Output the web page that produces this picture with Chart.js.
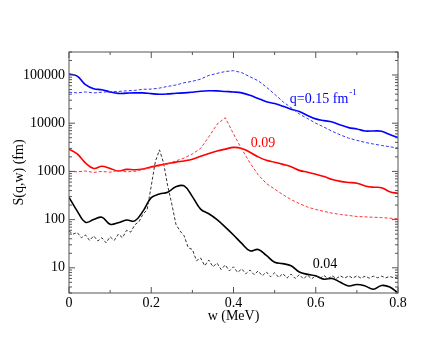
<!DOCTYPE html>
<html>
<head>
<meta charset="utf-8">
<script src="https://cdn.jsdelivr.net/npm/chart.js@4/dist/chart.umd.min.js"></script>
<style>
  body { margin: 0; background: #fff; }
  canvas { display: block; }
</style>
</head>
<body>
<canvas id="grafico" width="448" height="346"></canvas>
<script>
// eje x (MeV) para las curvas continuas y las discontinuas azul/roja
const wPaso2 = [0, 0.02, 0.04, 0.06, 0.08, 0.1, 0.12, 0.14, 0.16, 0.18, 0.2, 0.22, 0.24, 0.26, 0.28, 0.3,
  0.32, 0.34, 0.36, 0.38, 0.4, 0.42, 0.44, 0.46, 0.48, 0.5, 0.52, 0.54, 0.56, 0.58, 0.6,
  0.62, 0.64, 0.66, 0.68, 0.7, 0.72, 0.74, 0.76, 0.78, 0.8];
// eje x más fino para la curva negra discontinua (oscila mucho)
const wPaso1 = [0, 0.01, 0.02, 0.03, 0.04, 0.05, 0.06, 0.07, 0.08, 0.09, 0.1, 0.11, 0.12, 0.13, 0.14, 0.15,
  0.16, 0.17, 0.18, 0.19, 0.2, 0.21, 0.22, 0.23, 0.24, 0.25, 0.26, 0.27, 0.28, 0.29, 0.3,
  0.31, 0.32, 0.33, 0.34, 0.35, 0.36, 0.37, 0.38, 0.39, 0.4, 0.41, 0.42, 0.43, 0.44, 0.45,
  0.46, 0.47, 0.48, 0.49, 0.5, 0.51, 0.52, 0.53, 0.54, 0.55, 0.56, 0.57, 0.58, 0.59, 0.6,
  0.61, 0.62, 0.63, 0.64, 0.65, 0.66, 0.67, 0.68, 0.69, 0.7, 0.71, 0.72, 0.73, 0.74, 0.75,
  0.76, 0.77, 0.78, 0.79, 0.8];

// q = 0.15 fm^-1
const azulSolida = [105000, 95000, 63000, 52000, 49500, 44500, 41500, 42000, 42500, 42500, 41000,
  40000, 40500, 41800, 42500, 44000, 46000, 47000, 46800, 45500, 44500, 42500, 38000, 32500,
  28000, 25500, 22500, 19500, 17500, 14500, 12300, 11300, 10600, 9200, 8100, 7600, 6900,
  6900, 6800, 5800, 5000];
const azulDiscontinua = [44000, 42500, 44500, 42500, 44000, 45000, 45500, 47000, 48000, 50500, 51000,
  53500, 58000, 62000, 69000, 74000, 82000, 98000, 108000, 118000, 123000, 112000, 92000, 76000,
  56000, 40000, 28000, 21000, 15500, 12500, 10000, 8300, 6800, 5700, 4900, 4400, 4000,
  3700, 3450, 3250, 3050];

// q = 0.09
const rojaSolida = [2900, 2300, 1500, 1150, 1280, 1150, 1020, 1100, 1080, 1120, 1240, 1350, 1450,
  1560, 1650, 1780, 2050, 2350, 2650, 2900, 3150, 3000, 2500, 2000, 1700, 1550, 1400, 1250,
  1050, 960, 870, 780, 680, 620, 590, 570, 500, 470, 460, 380, 350];
const rojaDiscontinua = [1000, 980, 1020, 950, 1000, 960, 1050, 980, 1000, 1100, 1200, 1300, 1450,
  1650, 1900, 2300, 3000, 5200, 9500, 13000, 6000, 2900, 1500, 850, 560, 430, 330, 260, 215,
  182, 162, 148, 136, 128, 122, 116, 114, 112, 110, 107, 104];

// q = 0.04
const negraSolida = [290, 150, 88, 100, 112, 80, 86, 98, 94, 150, 285, 340, 370, 480, 500, 300,
  165, 132, 100, 70, 48, 32, 22.5, 24, 18, 13, 12.2, 11, 8.2, 7.3, 6.8, 5.8, 6.0, 5.0, 4.2,
  4.5, 4.2, 3.6, 4.3, 4.0, 3.0];
const negraDiscontinua = [58, 50, 54, 42, 48, 37, 46, 36, 42, 33, 44, 37, 50, 42, 60, 55, 78, 90,
  130, 160, 500, 1600, 2800, 1500, 500, 210, 80, 58, 46, 26, 24, 14, 16, 11, 14.5, 10.5, 12.5,
  9.2, 11.5, 8.6, 10.5, 8, 9.5, 7.5, 9, 7.2, 8.6, 6.8, 8.2, 6.5, 7.9, 6.3, 7.6, 6.1, 7.4, 6.0,
  7.2, 5.9, 7.0, 5.9, 6.9, 6.0, 6.9, 6.0, 6.8, 6.0, 6.8, 6.1, 6.8, 6.1, 6.8, 6.1, 6.7, 6.1,
  6.7, 6.2, 6.7, 6.2, 6.6, 6.2, 6.5];

// marcas de los ejes
const xMarcas = [0, 0.2, 0.4, 0.6, 0.8];
const xEtiquetas = ['0', '0.2', '0.4', '0.6', '0.8'];
const xMenores = [0.1, 0.3, 0.5, 0.7];
const yMarcas = [10, 100, 1000, 10000, 100000];
const yEtiquetas = ['10', '100', '1000', '10000', '100000'];

const fuente = { family: '"Liberation Serif", "Times New Roman", serif', size: 14 };

function puntos(xs, ys) {
  return ys.map((v, i) => ({ x: xs[i], y: v }));
}

// textos dentro del gráfico, en coordenadas de datos
const notas = [
  { texto: 'q=0.15 fm', sup: '-1', w: 0.537, s: 26000, color: '#0000ff' },
  { texto: '0.09', w: 0.442, s: 3280, color: '#ff0000' },
  { texto: '0.04', w: 0.593, s: 9.8, color: '#000000' }
];

const marco = {
  id: 'marco',
  afterDraw(chart) {
    const { ctx, chartArea: a, scales: { x, y } } = chart;
    ctx.save();
    ctx.strokeStyle = '#555';
    ctx.lineWidth = 1;
    ctx.strokeRect(a.left, a.top, a.right - a.left, a.bottom - a.top);
    ctx.beginPath();
    // marcas hacia dentro, arriba y abajo
    const marcaX = (v, largo) => {
      const px = x.getPixelForValue(v);
      ctx.moveTo(px, a.bottom); ctx.lineTo(px, a.bottom - largo);
      ctx.moveTo(px, a.top); ctx.lineTo(px, a.top + largo);
    };
    xMarcas.forEach(v => marcaX(v, 6));
    xMenores.forEach(v => marcaX(v, 3));
    // marcas del eje log, a izquierda y derecha
    const marcaY = (v, largo) => {
      const py = y.getPixelForValue(v);
      if (py < a.top - 0.5 || py > a.bottom + 0.5) return;
      ctx.moveTo(a.left, py); ctx.lineTo(a.left + largo, py);
      ctx.moveTo(a.right, py); ctx.lineTo(a.right - largo, py);
    };
    [1, 10, 100, 1000, 10000, 100000].forEach(dec => {
      for (let k = 1; k <= 9; k++) {
        marcaY(dec * k, k === 1 ? 6 : 3);
      }
    });
    ctx.stroke();

    ctx.font = `${fuente.size}px ${fuente.family}`;
    ctx.textBaseline = 'alphabetic';
    ctx.textAlign = 'left';
    notas.forEach(n => {
      const px = x.getPixelForValue(n.w);
      const py = y.getPixelForValue(n.s);
      ctx.fillStyle = n.color;
      ctx.fillText(n.texto, px, py);
      if (n.sup) {
        const ancho = ctx.measureText(n.texto).width;
        ctx.font = `9px ${fuente.family}`;
        ctx.fillText(n.sup, px + ancho + 1, py - 8);
        ctx.font = `${fuente.size}px ${fuente.family}`;
      }
    });
    ctx.restore();
  }
};

const ctx = document.getElementById('grafico').getContext('2d');
const chart = new Chart(ctx, {
  type: 'line',
  data: {
    datasets: [
      { data: puntos(wPaso2, azulDiscontinua), borderColor: '#3333ff', borderWidth: 1, borderDash: [3, 2] },
      { data: puntos(wPaso2, rojaDiscontinua), borderColor: '#ff3333', borderWidth: 1, borderDash: [3, 2] },
      { data: puntos(wPaso1, negraDiscontinua), borderColor: '#333333', borderWidth: 1, borderDash: [3, 2] },
      { data: puntos(wPaso2, azulSolida), borderColor: '#0000ff', borderWidth: 1.6, tension: 0.4 },
      { data: puntos(wPaso2, rojaSolida), borderColor: '#ff0000', borderWidth: 1.6, tension: 0.4 },
      { data: puntos(wPaso2, negraSolida), borderColor: '#000000', borderWidth: 1.6, tension: 0.4 }
    ]
  },
  options: {
    responsive: false,
    animation: false,
    layout: { padding: { top: 52, right: 50, left: 0, bottom: 0 } },
    elements: { point: { radius: 0 } },
    plugins: { legend: { display: false }, tooltip: { enabled: false } },
    scales: {
      x: {
        type: 'linear',
        min: 0,
        max: 0.8,
        grid: { display: false, drawTicks: false },
        border: { display: false },
        afterBuildTicks: s => { s.ticks = xMarcas.map(v => ({ value: v })); },
        afterFit: s => { s.height = 53; },
        ticks: {
          color: '#000',
          font: fuente,
          padding: 2,
          maxRotation: 0,
          autoSkip: false,
          callback: (v, i) => xEtiquetas[i]
        },
        title: { display: true, text: 'w (MeV)', color: '#000', font: fuente, padding: { top: 0, bottom: 21 } }
      },
      y: {
        type: 'logarithmic',
        min: 3,
        max: 300000,
        grid: { display: false, drawTicks: false },
        border: { display: false },
        afterBuildTicks: s => { s.ticks = yMarcas.map(v => ({ value: v })); },
        afterFit: s => { s.width = 69; },
        ticks: {
          color: '#000',
          font: fuente,
          padding: 4,
          autoSkip: false,
          callback: (v, i) => yEtiquetas[i]
        },
        title: { display: true, text: 'S(q,w) (fm)', color: '#000', font: fuente, padding: { top: 11, bottom: 0 } }
      }
    }
  },
  plugins: [marco]
});
</script>
</body>
</html>
